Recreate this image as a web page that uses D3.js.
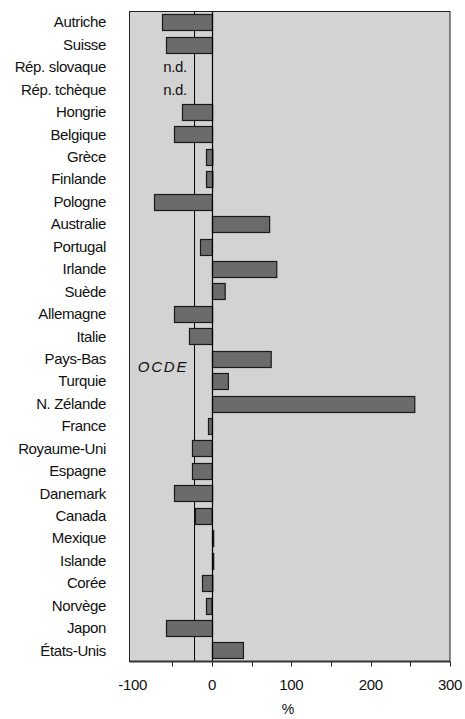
<!DOCTYPE html>
<head>
  <meta charset="utf-8">
  <script src="https://d3js.org/d3.v7.min.js"></script>
  <style>
    body { margin:0; background:#fff; }
    text { font-family: "Liberation Sans", Arial, sans-serif; }
  </style>
</head>
<body>
<script>

/* Data */
/* ==== */

var countries = ["Autriche", "Suisse", "Rép. slovaque", "Rép. tchèque", "Hongrie", "Belgique",
  "Grèce", "Finlande", "Pologne", "Australie", "Portugal", "Irlande", "Suède", "Allemagne",
  "Italie", "Pays-Bas", "Turquie", "N. Zélande", "France", "Royaume-Uni", "Espagne",
  "Danemark", "Canada", "Mexique", "Islande", "Corée", "Norvège", "Japon", "États-Unis"];

// null = n.d.
var values = [-63, -58, null, null, -38, -48, -8, -8, -73, 72, -15, 81, 16, -48,
  -29, 74, 20, 255, -5, -25, -25, -48, -21, 1.5, 1.5, -13, -7, -58, 39];

var oecd = -22;
var xTicks = [-50, 0, 50, 100, 150, 200, 250, 300];
var xLabels = [-100, 0, 100, 200, 300];


/* Set up */
/* ====== */

var width = 465, height = 719;
var plot = { left: 129.5, right: 450, top: 11.5, bottom: 661.5 };
var fs = 15, ls = -0.35;   // label font size / letter spacing (narrow look)

var svg = d3.select('body')
  .append('svg')
    .attr('width', width)
    .attr('height', height);

var x = d3.scaleLinear()
    .domain([-104, 300])
    .range([plot.left, plot.right]);

var y = d3.scaleBand()
    .domain(countries)
    .range([plot.top, plot.bottom])
    .paddingInner(0.27)
    .paddingOuter(0.12);

// background
svg.append('rect')
    .attr('x', plot.left)
    .attr('y', plot.top)
    .attr('width', plot.right - plot.left)
    .attr('height', plot.bottom - plot.top)
    .attr('fill', '#d3d3d3')
    .attr('stroke', '#222')
    .attr('stroke-width', 1);

// OECD average line
svg.append('line')
    .attr('x1', x(oecd)).attr('x2', x(oecd))
    .attr('y1', plot.top).attr('y2', plot.bottom)
    .attr('stroke', '#000')
    .attr('stroke-width', 1);

// bars
svg.selectAll('.bar')
    .data(countries.map(function(c, i) { return { c: c, v: values[i] }; })
      .filter(function(d) { return d.v !== null; }))
  .enter().append('rect')
    .attr('class', 'bar')
    .attr('x', function(d) { return Math.round(x(Math.min(0, d.v))) + 0.5; })
    .attr('y', function(d) { return Math.round(y(d.c)) + 0.5; })
    .attr('width', function(d) { return Math.max(1, Math.abs(x(d.v) - x(0))); })
    .attr('height', Math.round(y.bandwidth()))
    .attr('fill', '#6b6b6b')
    .attr('stroke', '#1a1a1a')
    .attr('stroke-width', 1.2);

// zero line
svg.append('line')
    .attr('x1', Math.round(x(0)) + 0.5).attr('x2', Math.round(x(0)) + 0.5)
    .attr('y1', plot.top).attr('y2', plot.bottom)
    .attr('stroke', '#000')
    .attr('stroke-width', 1.2);

// n.d. labels
countries.forEach(function(c, i) {
  if (values[i] === null) {
    svg.append('text')
      .attr('x', 175)
      .attr('y', y(c) + y.bandwidth() / 2 + 5)
      .attr('text-anchor', 'middle')
      .attr('font-size', fs)
      .attr('letter-spacing', ls)
      .attr('fill', '#111')
      .text('n.d.');
  }
});

// OCDE label
svg.append('text')
    .attr('x', 163)
    .attr('y', 372)
    .attr('text-anchor', 'middle')
    .attr('font-size', 15)
    .attr('font-style', 'italic')
    .attr('letter-spacing', 1.8)
    .attr('fill', '#111')
    .text('OCDE');

// country labels
svg.selectAll('.lab')
    .data(countries)
  .enter().append('text')
    .attr('class', 'lab')
    .attr('x', 106)
    .attr('y', function(d) { return y(d) + y.bandwidth() / 2 + 5; })
    .attr('text-anchor', 'end')
    .attr('font-size', fs)
    .attr('letter-spacing', ls)
    .attr('fill', '#111')
    .text(function(d) { return d; });

// bottom axis line
svg.append('line')
    .attr('x1', plot.left).attr('x2', plot.right)
    .attr('y1', plot.bottom).attr('y2', plot.bottom)
    .attr('stroke', '#333')
    .attr('stroke-width', 2);

svg.selectAll('.tick')
    .data(xTicks)
  .enter().append('line')
    .attr('class', 'tick')
    .attr('x1', function(d) { return Math.round(x(d)) + 0.5; })
    .attr('x2', function(d) { return Math.round(x(d)) + 0.5; })
    .attr('y1', plot.bottom)
    .attr('y2', plot.bottom + 5)
    .attr('stroke', '#222');

svg.selectAll('.xlab')
    .data(xLabels)
  .enter().append('text')
    .attr('class', 'xlab')
    .attr('x', function(d) { return x(d); })
    .attr('y', 690)
    .attr('text-anchor', 'middle')
    .attr('font-size', fs)
    .attr('letter-spacing', ls)
    .attr('fill', '#111')
    .text(function(d) { return d; });

svg.append('text')
    .attr('x', 288)
    .attr('y', 714)
    .attr('text-anchor', 'middle')
    .attr('font-size', 14)
    .attr('fill', '#111')
    .text('%');

</script>
</body>
